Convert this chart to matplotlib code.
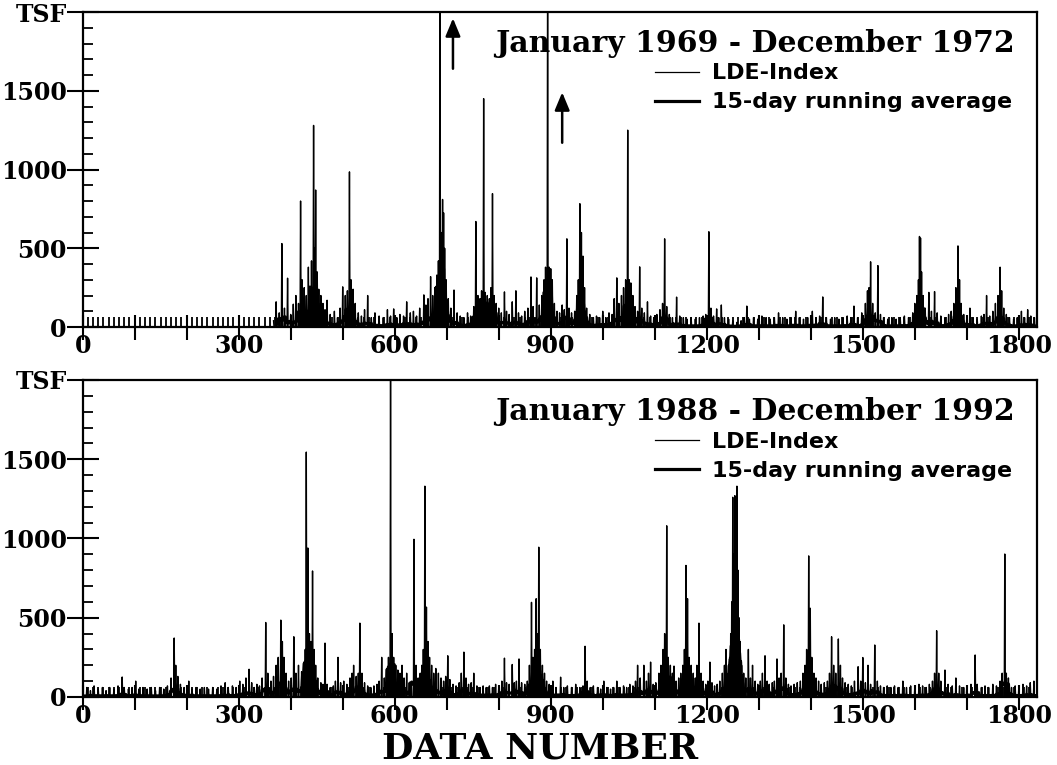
import numpy as np
import matplotlib.pyplot as plt
from matplotlib.ticker import MultipleLocator
from matplotlib.lines import Line2D

# LDE-index values (day number, TSF); days not listed are ~0
n_days = 1836
top_start = 367  # no data before this day in the 1969-1972 record

top_days = [367, 372, 378, 383, 388, 394, 400, 405, 410, 415, 419, 422, 426, 430, 434, 437, 440, 444,
            446, 448, 451, 454, 458, 462, 466, 470, 476, 484, 490, 495, 500, 505, 509, 513, 516, 520,
            524, 530, 536, 542, 548, 555, 562, 570, 578, 586, 592, 598, 604, 610, 617, 623, 630, 636,
            642, 648, 656, 660, 664, 669, 673, 677, 681, 684, 687, 690, 692, 694, 696, 699, 703, 708,
            714, 720, 726, 733, 740, 746, 752, 756, 760, 764, 767, 771, 774, 778, 782, 785, 788, 791,
            795, 800, 805, 811, 815, 820, 826, 833, 838, 844, 850, 856, 862, 866, 873, 878, 883, 887,
            890, 894, 897, 900, 903, 907, 912, 917, 922, 926, 931, 935, 940, 946, 950, 953, 956, 959,
            962, 965, 969, 975, 982, 988, 994, 1000, 1006, 1012, 1018, 1022, 1027, 1031, 1036, 1040,
            1044, 1048, 1051, 1054, 1058, 1062, 1067, 1071, 1075, 1080, 1086, 1092, 1098, 1104, 1110,
            1115, 1119, 1123, 1128, 1134, 1142, 1148, 1155, 1162, 1170, 1178, 1186, 1193, 1198, 1204,
            1208, 1213, 1219, 1223, 1228, 1234, 1242, 1250, 1258, 1266, 1272, 1277, 1282, 1290, 1298,
            1306, 1314, 1322, 1330, 1338, 1346, 1354, 1362, 1371, 1378, 1386, 1394, 1403, 1410, 1417,
            1423, 1430, 1438, 1446, 1454, 1462, 1470, 1477, 1483, 1490, 1498, 1505, 1509, 1512, 1515,
            1519, 1524, 1529, 1534, 1540, 1548, 1556, 1564, 1572, 1580, 1588, 1596, 1600, 1604, 1607,
            1609, 1611, 1613, 1616, 1620, 1627, 1632, 1638, 1643, 1650, 1658, 1665, 1670, 1675, 1679,
            1683, 1686, 1689, 1694, 1700, 1706, 1712, 1720, 1728, 1733, 1738, 1744, 1750, 1755, 1760,
            1764, 1767, 1771, 1776, 1782, 1790, 1797, 1805, 1811, 1817, 1823, 1830]
top_vals = [40, 160, 90, 530, 120, 310, 80, 145, 200, 150, 800, 300, 250, 200, 380, 260, 420, 1280,
            500, 870, 350, 240, 200, 150, 110, 170, 80, 100, 60, 120, 255, 200, 230, 985, 300, 240,
            150, 90, 70, 110, 200, 60, 90, 70, 60, 110, 70, 115, 60, 80, 70, 160, 90, 100,
            70, 120, 204, 140, 180, 320, 200, 250, 330, 420, 2600, 600, 810, 725, 500, 300, 180, 120,
            235, 90, 70, 60, 90, 70, 130, 670, 200, 180, 230, 1450, 220, 200, 180, 250, 847, 200,
            150, 120, 90, 223, 100, 80, 160, 230, 90, 70, 100, 120, 318, 130, 312, 140, 200, 300,
            380, 2400, 380, 370, 300, 150, 100, 90, 140, 110, 560, 120, 90, 100, 200, 300, 783, 600,
            450, 250, 120, 80, 60, 70, 60, 100, 60, 90, 80, 180, 312, 150, 200, 250,
            300, 1250, 300, 280, 200, 130, 100, 382, 120, 90, 160, 70, 60, 80, 110,
            150, 560, 130, 80, 60, 190, 70, 60, 50, 60, 50, 60, 70, 80, 605,
            120, 70, 115, 60, 140, 60, 50, 40, 30, 40, 60, 133, 50, 60, 50,
            70, 60, 50, 60, 90, 60, 50, 60, 100, 60, 50, 60, 100, 60, 70,
            191, 60, 50, 60, 50, 60, 70, 60, 133, 60, 90, 150, 230, 250, 414,
            150, 90, 390, 80, 60, 50, 60, 50, 60, 70, 60, 90, 150, 200, 300,
            575, 565, 350, 200, 120, 220, 100, 225, 90, 70, 60, 80, 100, 150, 250,
            515, 300, 150, 80, 60, 120, 60, 50, 70, 80, 200, 70, 100, 150, 200,
            380, 230, 120, 80, 60, 50, 60, 100, 60, 110, 70, 60]

bot_days = [0, 8, 15, 22, 30, 38, 45, 52, 60, 68, 76, 80, 88, 95, 102, 108, 116, 124, 132, 140, 148,
            156, 163, 170, 176, 179, 183, 188, 195, 204, 210, 218, 226, 234, 242, 250, 258, 266, 274,
            280, 288, 295, 302, 308, 314, 320, 325, 330, 335, 340, 345, 352, 356, 362, 367, 372, 376,
            381, 384, 387, 391, 396, 401, 406, 410, 415, 421, 425, 428, 430, 433, 436, 439, 442, 445,
            448, 452, 458, 462, 466, 470, 476, 482, 486, 491, 496, 502, 508, 514, 518, 521, 526, 530,
            533, 537, 542, 548, 554, 560, 566, 570, 575, 580, 585, 588, 592, 595, 598, 602, 606, 610,
            614, 618, 623, 628, 632, 637, 641, 645, 649, 652, 655, 658, 661, 664, 667, 671, 675, 679,
            684, 689, 694, 698, 702, 706, 712, 718, 724, 728, 733, 737, 742, 747, 752, 758, 764, 770,
            776, 782, 788, 794, 800, 806, 811, 815, 820, 826, 830, 834, 839, 844, 850, 855, 859, 863,
            866, 869, 872, 875, 877, 880, 884, 888, 892, 897, 904, 910, 919, 925, 932, 940, 948, 956,
            962, 966, 970, 976, 982, 990, 996, 1002, 1008, 1015, 1021, 1027, 1033, 1040, 1046, 1052,
            1058, 1063, 1067, 1072, 1079, 1084, 1088, 1092, 1097, 1102, 1108, 1112, 1116, 1119, 1123,
            1126, 1130, 1134, 1137, 1141, 1146, 1150, 1154, 1157, 1160, 1163, 1166, 1170, 1174, 1178,
            1181, 1185, 1189, 1193, 1198, 1202, 1206, 1210, 1215, 1220, 1225, 1230, 1234, 1237, 1241,
            1244, 1246, 1248, 1250, 1252, 1254, 1256, 1258, 1260, 1262, 1264, 1267, 1271, 1275, 1280,
            1284, 1288, 1293, 1298, 1303, 1307, 1312, 1316, 1320, 1326, 1330, 1335, 1339, 1343, 1348,
            1352, 1357, 1362, 1368, 1374, 1380, 1385, 1389, 1392, 1396, 1399, 1402, 1406, 1410, 1415,
            1420, 1426, 1432, 1436, 1440, 1444, 1448, 1453, 1457, 1461, 1466, 1472, 1478, 1484, 1491,
            1496, 1500, 1505, 1510, 1515, 1523, 1528, 1534, 1540, 1547, 1554, 1561, 1568, 1577, 1584,
            1592, 1600, 1608, 1615, 1622, 1628, 1634, 1638, 1642, 1646, 1650, 1658, 1664, 1672, 1679,
            1686, 1694, 1700, 1708, 1716, 1720, 1728, 1735, 1742, 1750, 1757, 1764, 1768, 1773, 1776,
            1780, 1786, 1793, 1800, 1808, 1815, 1822, 1829]
bot_vals = [30, 60, 40, 70, 50, 60, 40, 60, 50, 70, 126, 60, 50, 60, 100, 50, 60, 50, 60, 40, 60,
            50, 70, 120, 372, 200, 130, 80, 60, 100, 50, 60, 50, 60, 50, 60, 50, 70, 90,
            60, 70, 60, 100, 80, 120, 175, 90, 60, 80, 70, 120, 470, 150, 100, 130, 200, 250,
            485, 350, 250, 150, 100, 120, 380, 150, 200, 160, 220, 300, 1545, 940, 400, 350, 795, 300,
            200, 120, 90, 80, 340, 80, 60, 70, 100, 250, 90, 100, 80, 120, 150, 200, 130, 150,
            466, 150, 90, 70, 60, 70, 80, 100, 250, 120, 150, 250, 2050, 400, 250, 200, 170, 150,
            200, 120, 150, 90, 100, 995, 200, 120, 150, 200, 300, 1330, 567, 350, 250, 200, 150, 180,
            150, 120, 100, 130, 260, 110, 80, 70, 90, 150, 283, 120, 80, 90, 150, 70, 60, 70,
            60, 70, 60, 80, 60, 100, 245, 90, 80, 205, 90, 100, 240, 90, 80, 100, 200, 597,
            250, 300, 620, 400, 945, 300, 200, 150, 100, 80, 100, 60, 125, 60, 70, 60, 80, 60,
            70, 320, 100, 60, 70, 60, 50, 100, 60, 50, 60, 100, 60, 70, 60, 80,
            70, 100, 200, 120, 200, 100, 150, 220, 80, 90, 150, 200, 300, 400, 1080,
            250, 200, 150, 195, 100, 120, 150, 200, 300, 830, 620, 250, 200, 150, 120,
            200, 466, 150, 100, 80, 100, 220, 90, 70, 80, 100, 150, 200, 300, 150,
            250, 400, 600, 1260, 900, 1270, 1000, 1330, 800, 500, 350, 200, 150, 120, 300,
            120, 200, 100, 80, 100, 150, 260, 100, 80, 90, 100, 240, 120, 150, 455,
            120, 80, 70, 80, 90, 100, 150, 200, 300, 890, 560, 250, 150, 120, 100,
            80, 90, 100, 150, 380, 200, 150, 366, 200, 120, 90, 80, 70, 100, 191,
            100, 249, 90, 200, 80, 328, 100, 70, 60, 70, 60, 70, 60, 100, 60,
            70, 60, 80, 70, 60, 80, 100, 150, 418, 150, 100, 170, 80, 70, 120,
            70, 60, 70, 80, 265, 80, 60, 70, 60, 80, 70, 100, 150, 902, 150,
            120, 60, 70, 60, 80, 70, 90, 100]

panel_titles = ["January 1969 - December 1972", "January 1988 - December 1992"]
legend_labels = ["LDE-Index", "15-day running average"]
y_tick_vals = [0, 500, 1000, 1500, 2000]
y_tick_text = ["0", "500", "1000", "1500", "TSF"]
x_major = np.arange(0, 1835, 100)

# off-scale markers in the 1969-1972 panel: (x, tail y, head y)
arrows = [(712, 1640, 1960), (922, 1170, 1490)]


def daily(days, vals):
    s = np.zeros(n_days)
    s[days] = vals
    return s


def running_mean(s, w=15):
    return np.convolve(s, np.ones(w) / w, mode="same")


top_series = daily(top_days, top_vals)
top_avg = running_mean(top_series)
top_series[:top_start] = np.nan
top_avg[:top_start + 7] = np.nan

bot_series = daily(bot_days, bot_vals)
bot_avg = running_mean(bot_series)

plt.rcParams['font.family'] = 'DejaVu Serif'
plt.rcParams['font.weight'] = 'bold'

fig = plt.figure(figsize=(10.57, 7.65), dpi=100)
ax_top = fig.add_axes([0.0782, 0.5725, 0.9029, 0.4118])
ax_bot = fig.add_axes([0.0782, 0.0889, 0.9029, 0.4144])

days = np.arange(n_days)
for ax, s, avg, title in [(ax_top, top_series, top_avg, panel_titles[0]),
                          (ax_bot, bot_series, bot_avg, panel_titles[1])]:
    ax.plot(days, s, color='black', lw=1.0)
    ax.plot(days, avg, color='black', lw=2.3)
    ax.set_xlim(0, 1835)
    ax.set_ylim(0, 2000)
    ax.set_xticks(x_major)
    ax.set_xticklabels([str(v) if v % 300 == 0 else '' for v in x_major])
    ax.xaxis.set_minor_locator(MultipleLocator(10))
    ax.set_yticks(y_tick_vals)
    ax.set_yticklabels(y_tick_text)
    ax.yaxis.set_minor_locator(MultipleLocator(100))
    ax.tick_params(axis='both', which='major', labelsize=17, width=1.5, color='black')
    ax.tick_params(axis='x', which='major', direction='inout', length=18, pad=-4)
    ax.tick_params(axis='y', which='major', direction='inout', length=23, pad=0)
    ax.tick_params(axis='both', which='minor', direction='in', length=7, width=1.3)
    ax.tick_params(top=False, right=False, which='both')
    for sp in ax.spines.values():
        sp.set_linewidth(1.6)

    ax.text(0.977, 0.90, title, transform=ax.transAxes, ha='right', va='center',
            fontsize=21.5, fontweight='bold', family='DejaVu Serif')
    handles = [Line2D([], [], color='black', lw=0.9), Line2D([], [], color='black', lw=2.3)]
    ax.legend(handles, legend_labels, loc='upper left', bbox_to_anchor=(0.590, 0.865),
              frameon=False, borderaxespad=0, handlelength=2.0, handletextpad=0.6,
              labelspacing=0.4, prop={'family': 'DejaVu Sans', 'size': 16})

for x, y0, y1 in arrows:
    ax_top.annotate('', xy=(x, y1), xytext=(x, y0),
                    arrowprops=dict(arrowstyle='-|>,head_length=0.6,head_width=0.25',
                                    color='black', lw=1.8,
                                    mutation_scale=18, shrinkA=0, shrinkB=0))

fig.text(0.511, 0.022, 'DATA NUMBER', ha='center', va='center',
         fontsize=26, fontweight='bold', family='DejaVu Serif')

fig.savefig('out.png', dpi=100)
